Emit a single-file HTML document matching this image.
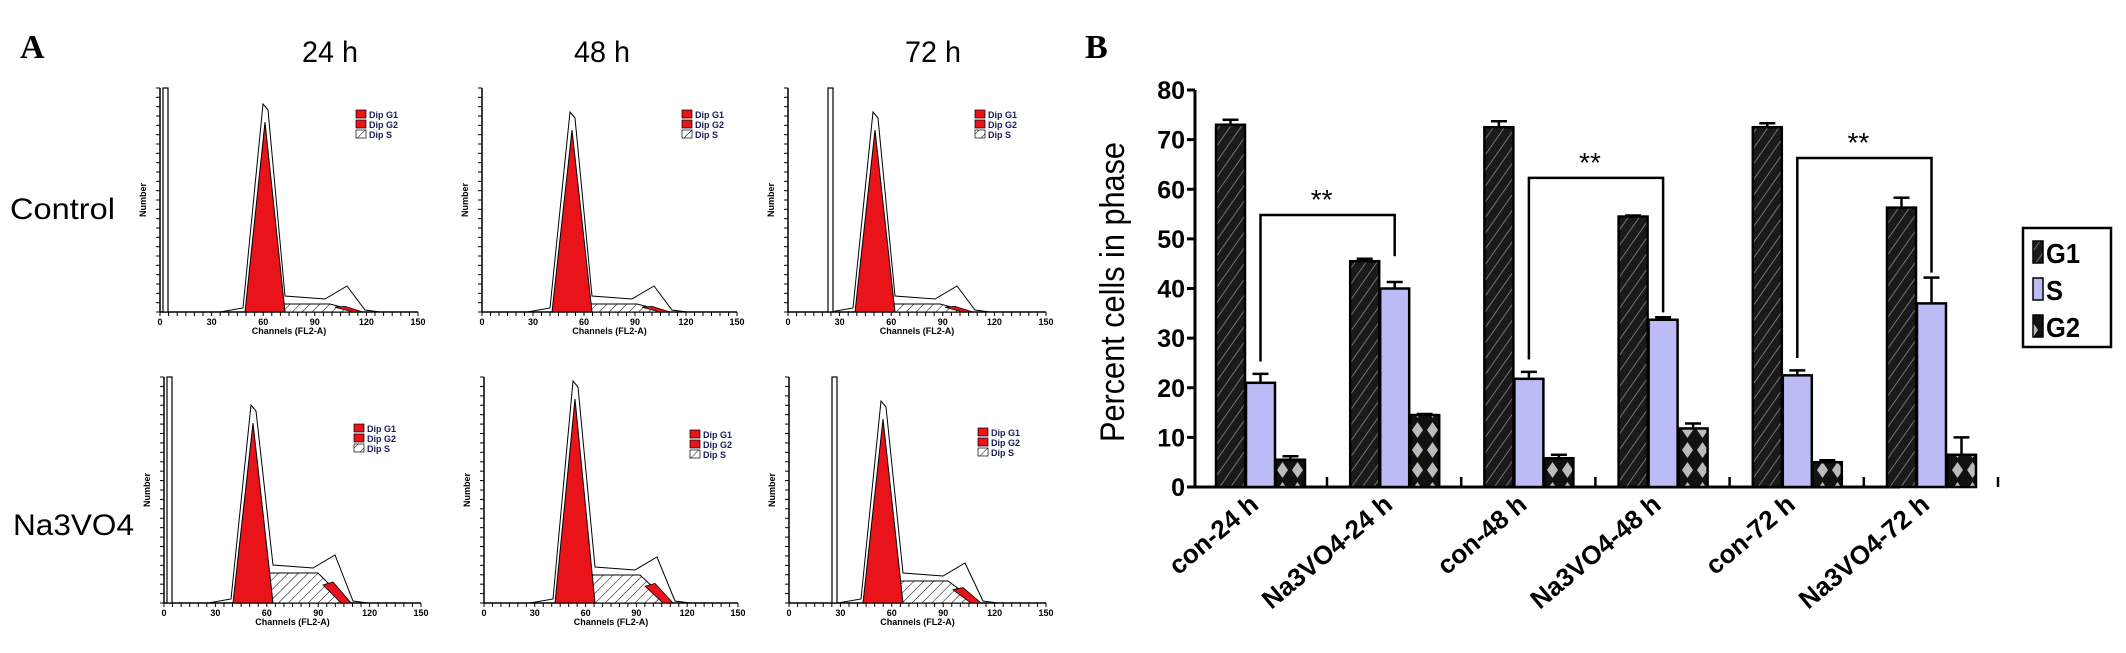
<!DOCTYPE html>
<html><head><meta charset="utf-8"><style>
html,body{margin:0;padding:0;background:#fff;}
svg{display:block;font-family:"Liberation Sans",sans-serif;}
</style></head><body>
<svg id="fig" width="2126" height="653" viewBox="0 0 2126 653" xmlns="http://www.w3.org/2000/svg">
<defs>
<pattern id="hatchG1" width="9" height="9" patternUnits="userSpaceOnUse" patternTransform="rotate(35)">
<rect width="9" height="9" fill="#1a1a1a"/><line x1="0" y1="0" x2="0" y2="9" stroke="#8a8a8a" stroke-width="1.6"/></pattern>
<pattern id="diamG2" width="15" height="20" patternUnits="userSpaceOnUse">
<rect width="15" height="20" fill="#111"/><polygon points="7.5,2 13,10 7.5,18 2,10" fill="#bbb"/></pattern>
<pattern id="hatchS" width="7" height="7" patternUnits="userSpaceOnUse" patternTransform="rotate(45)">
<rect width="7" height="7" fill="#fff"/><line x1="0" y1="0" x2="0" y2="7" stroke="#000" stroke-width="1"/></pattern>
</defs>
<text x="20" y="58" font-family="Liberation Serif,serif" font-weight="bold" font-size="34">A</text>
<text x="1085" y="58" font-family="Liberation Serif,serif" font-weight="bold" font-size="34">B</text>
<text x="330" y="62" font-size="30" text-anchor="middle" textLength="56" lengthAdjust="spacingAndGlyphs">24 h</text>
<text x="602" y="62" font-size="30" text-anchor="middle" textLength="56" lengthAdjust="spacingAndGlyphs">48 h</text>
<text x="933" y="62" font-size="30" text-anchor="middle" textLength="56" lengthAdjust="spacingAndGlyphs">72 h</text>
<text x="10" y="219" font-size="30" textLength="105" lengthAdjust="spacingAndGlyphs">Control</text>
<text x="13" y="535" font-size="30" textLength="121" lengthAdjust="spacingAndGlyphs">Na3VO4</text>
<g id="histos"></g>
<g id="bars"></g>
</svg>
<script>
// ---- Panel B data ----
const categories = ["con-24 h","Na3VO4-24 h","con-48 h","Na3VO4-48 h","con-72 h","Na3VO4-72 h"];
const g1Values = [73, 45.5, 72.5, 54.5, 72.5, 56.3];
const sValues  = [21, 40, 21.8, 33.7, 22.5, 37];
const g2Values = [5.5, 14.5, 5.8, 11.8, 5, 6.5];
const g1Err = [1, 0.5, 1.2, 0.2, 0.8, 2];
const sErr  = [1.8, 1.3, 1.4, 0.5, 1, 5.2];
const g2Err = [0.7, 0.2, 0.7, 1, 0.4, 3.5];
const yTicks = [0,10,20,30,40,50,60,70,80];
const seriesNames = ["G1","S","G2"];
const bracketLevels = [54.8, 62.3, 66.3];

const NS="http://www.w3.org/2000/svg";
function mk(tag,attrs,parent){const e=document.createElementNS(NS,tag);for(const k in attrs)e.setAttribute(k,attrs[k]);parent.appendChild(e);return e;}

const bars=document.getElementById('bars');
const y0=487, yTop=90, yMax=80;
const yS=v=>y0-(v/yMax)*(y0-yTop);
const axisX=1195, groupStart=1216, groupStep=134.2, barW=30;
const xG=(i,s)=>groupStart+i*groupStep+s*barW;

const ya=mk('line',{x1:axisX,y1:yTop,x2:axisX,y2:y0,stroke:'#000','stroke-width':3},bars);


const xa=mk('line',{x1:axisX,y1:y0,x2:1900,y2:y0,stroke:'#000','stroke-width':3},bars);


yTicks.forEach(t=>{
  mk('line',{x1:axisX-8,y1:yS(t),x2:axisX,y2:yS(t),stroke:'#000','stroke-width':3},bars);
  const tx=mk('text',{x:axisX-10,y:yS(t)+9,'text-anchor':'end','font-size':25,'font-weight':'bold'},bars);
  tx.textContent=t;
  
  
});
const yl=mk('text',{x:0,y:0,transform:'translate(1124,292) rotate(-90)','text-anchor':'middle','font-size':34,textLength:300,lengthAdjust:'spacingAndGlyphs'},bars);
yl.textContent='Percent cells in phase';



const fills=['url(#hatchG1)','#bbbbf5','url(#diamG2)'];
const vals=[g1Values,sValues,g2Values], errs=[g1Err,sErr,g2Err];
categories.forEach((c,i)=>{
  for(let s=0;s<3;s++){
    const v=vals[s][i], e=errs[s][i], x=xG(i,s);
    const r=mk('rect',{x:x,y:yS(v),width:barW-1,height:y0-yS(v),fill:fills[s],stroke:'#000','stroke-width':2.5},bars);
    
    
    const cx=x+(barW-1)/2;
    mk('line',{x1:cx,y1:yS(v),x2:cx,y2:yS(v+e),stroke:'#000','stroke-width':2.5},bars);
    mk('line',{x1:cx-8,y1:yS(v+e),x2:cx+8,y2:yS(v+e),stroke:'#000','stroke-width':2.5},bars);
  }
  const tickX=groupStart+i*groupStep+3*barW+21;
  mk('line',{x1:tickX,y1:y0,x2:tickX,y2:y0-10,stroke:'#000','stroke-width':2.5},bars);
  const lx=groupStart+i*groupStep+44, ly=507;
  const t=mk('text',{x:lx,y:ly,transform:`rotate(-40 ${lx} ${ly})`,'text-anchor':'end','font-size':26,'font-weight':'bold'},bars);
  t.textContent=c;
  
  
});
// significance brackets: con S bar -> Na3VO4 S bar
[[0,1],[2,3],[4,5]].forEach(([a,b],k)=>{
  const xa1=xG(a,1)+14.5, xb1=xG(b,1)+14.5;
  const ya1=yS(sValues[a]+sErr[a]+2.5), yb1=yS(Math.max(sValues[b]+sErr[b], k===0?g1Values[b]:0)+1);
  const yh=yS(bracketLevels[k]);
  const p=mk('path',{d:`M${xa1},${ya1} V${yh} H${xb1} V${yb1}`,fill:'none',stroke:'#000','stroke-width':2.5},bars);
  
  
  const st=mk('text',{x:(xa1+xb1)/2-6,y:yh-6,'text-anchor':'middle','font-size':28},bars);
  st.textContent='**';
  
  
});
// legend
const lg=mk('g',{},bars);


mk('rect',{x:2023,y:228,width:88,height:119,fill:'#fff',stroke:'#000','stroke-width':2.5},lg);
seriesNames.forEach((n,k)=>{
  const yy=252+k*37;
  mk('rect',{x:2033,y:yy-11,width:10,height:22,fill:fills[k],stroke:'#000','stroke-width':1.5},lg);
  const t=mk('text',{x:2046,y:yy+11,'font-size':28,'font-weight':'bold',textLength:n.length*17,lengthAdjust:'spacingAndGlyphs'},lg);
  t.textContent=n;
  
  
});

// ---- Panel A histograms ----
const P=[
 {x0:160,yt:88,yb:312,w:258,px:265,pt:104,gate:163,sh:8,lx:356,ly:115},
 {x0:482,yt:88,yb:312,w:255,px:572,pt:112,gate:-1,sh:8,lx:682,ly:115},
 {x0:788,yt:88,yb:312,w:258,px:875,pt:112,gate:828,sh:8,lx:975,ly:115},
 {x0:164,yt:377,yb:603,w:257,px:253,pt:405,gate:167,sh:30,lx:354,ly:429},
 {x0:484,yt:377,yb:603,w:254,px:575,pt:381,gate:-1,sh:28,lx:690,ly:435},
 {x0:789,yt:377,yb:603,w:257,px:883,pt:401,gate:832,sh:22,lx:978,ly:433}
];
const H=document.getElementById('histos');
P.forEach((q,idx)=>{
  const g=mk('g',{},H);
  
  
  const {x0,yt,yb,w,px,pt,sh}=q;
  mk('line',{x1:x0,y1:yt,x2:x0,y2:yb,stroke:'#000','stroke-width':1.5},g);
  mk('line',{x1:x0,y1:yb,x2:x0+w,y2:yb,stroke:'#000','stroke-width':1.5},g);
  for(let k=0;k<=30;k++)mk('line',{x1:x0+k*w/30,y1:yb,x2:x0+k*w/30,y2:yb+4,stroke:'#000','stroke-width':1},g);
  for(let k=0;k<=24;k++)mk('line',{x1:x0,y1:yb-k*(yb-yt)/24,x2:x0-4,y2:yb-k*(yb-yt)/24,stroke:'#000','stroke-width':1},g);
  ['0','30','60','90','120','150'].forEach((l,k)=>{const t=mk('text',{x:x0+k*w/5,y:yb+13,'font-size':9,'font-weight':'bold','text-anchor':'middle'},g);t.textContent=l;});
  const ct=mk('text',{x:x0+w/2,y:yb+22,'font-size':9,'font-weight':'bold','text-anchor':'middle'},g);ct.textContent='Channels (FL2-A)';
  const nt=mk('text',{x:0,y:0,transform:`translate(${x0-14},${(yt+yb)/2}) rotate(-90)`,'font-size':9,'font-weight':'bold','text-anchor':'middle'},g);nt.textContent='Number';
  if(q.gate>0) mk('rect',{x:q.gate,y:yt,width:5,height:yb-yt,fill:'#fff',stroke:'#000','stroke-width':1.2},g);
  mk('path',{d:`M${px+3},${yb} L${px+15},${yb-sh} L${px+65},${yb-sh} L${px+95},${yb} Z`,fill:'url(#hatchS)',stroke:'#000','stroke-width':1},g);
  mk('path',{d:`M${px-45},${yb} L${px-22},${yb-4} L${px-2},${pt} L${px+3},${pt+6} L${px+20},${yb-sh-8} L${px+60},${yb-sh-5} L${px+82},${yb-sh-18} L${px+100},${yb-2} L${px+115},${yb}`,fill:'none',stroke:'#000','stroke-width':1},g);
  mk('path',{d:`M${px-20},${yb} L${px},${pt+18} L${px+20},${yb} Z`,fill:'#e8141a',stroke:'#000','stroke-width':1},g);
  mk('path',{d:`M${px+70},${yb-sh*0.6} L${px+80},${yb-sh*0.7} L${px+98},${yb} L${px+88},${yb} Z`,fill:'#e8141a',stroke:'#000','stroke-width':0.8},g);
  [['#e8141a','Dip G1'],['#e8141a','Dip G2'],['url(#hatchS)','Dip S']].forEach((d,k)=>{
    mk('rect',{x:q.lx,y:q.ly-5+k*10,width:10,height:8,fill:d[0],stroke:'#000','stroke-width':0.7},g);
    const t=mk('text',{x:q.lx+13,y:q.ly+3+k*10,'font-size':9,'font-weight':'bold',fill:'#1a1a5a'},g);t.textContent=d[1];
  });
});
</script>
</body></html>
